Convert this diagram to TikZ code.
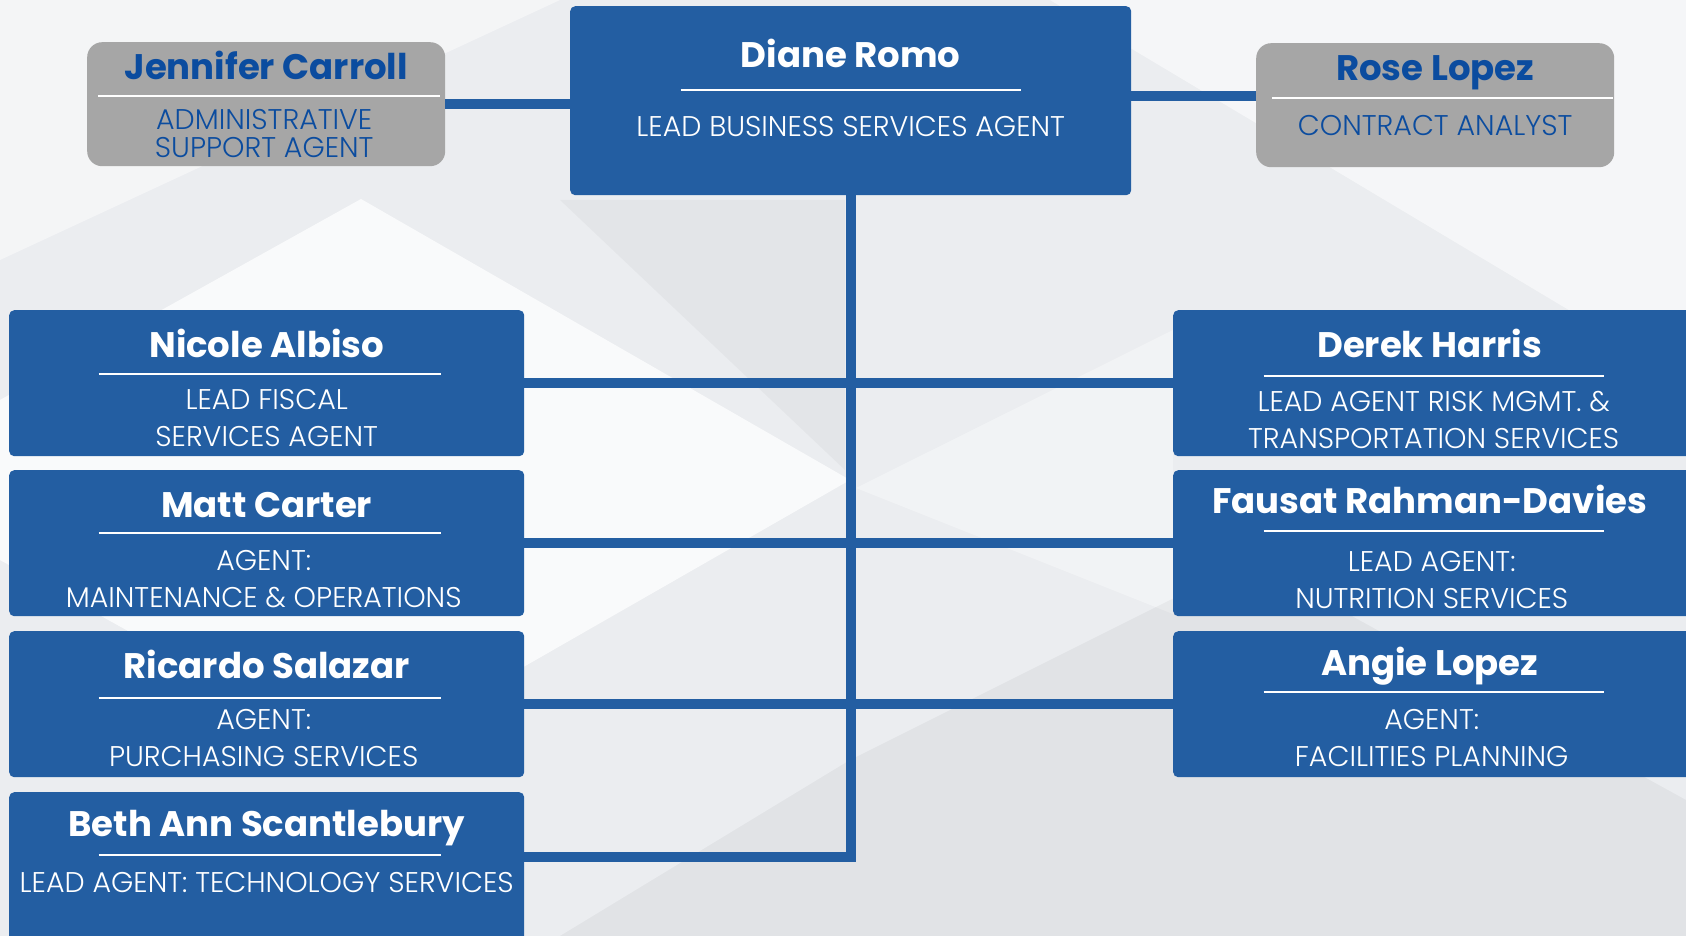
\documentclass[tikz,border=0pt]{standalone}
\usepackage{fontspec}
\setmainfont{Poppins}
\newfontfamily\poplight{Poppins Light}
\usepackage{xcolor}
\usepackage{tikz}
\usetikzlibrary{calc}
\definecolor{boxblue}{HTML}{235EA2}
\definecolor{boxgray}{HTML}{A6A6A6}
\definecolor{textblue}{HTML}{0B4C9F}
\definecolor{bgcol}{HTML}{EBEDF0}

\tikzset{
  bluebox/.style={fill=boxblue, rounded corners=5pt, anchor=north west, inner sep=0pt},
  graybox/.style={fill=boxgray, rounded corners=15pt, anchor=north west, inner sep=0pt,
    minimum width=358, minimum height=124},
  leftbox/.style={bluebox, minimum width=515, minimum height=146},
  rightbox/.style={bluebox, minimum width=521, minimum height=146},
  personname/.style={font=\bfseries\fontsize{35.5}{40}\selectfont, text=white, inner sep=0pt,
    text height=25pt, text depth=0pt},
  jobtitle/.style={font=\poplight\fontsize{28.5}{37.6}\selectfont, text=white, align=center,
    inner sep=0pt},
  namerule/.style={draw=white, line width=2pt},
  link/.style={draw=boxblue, line width=10pt},
}

\begin{document}
\begin{tikzpicture}[x=1pt, y=-1pt]
% page and a few soft background facets
\useasboundingbox (0,0) rectangle (1686,936);
\fill[bgcol] (0,0) rectangle (1686,936);
\fill[white, opacity=.55] (1050,0) -- (1686,0) -- (1686,380) -- cycle;
\fill[white, opacity=.45] (0,0) -- (560,0) -- (0,260) -- cycle;
\fill[white, opacity=.75] (361,199) -- (850,480) -- (361,760) -- (0,560) -- (0,400) -- cycle;
\fill[white, opacity=.35] (1173,330) -- (856,488) -- (1173,614) -- cycle;
\fill[black, opacity=.04] (850,760) -- (1250,560) -- (1686,800) -- (1686,936) -- (560,936) -- cycle;
\fill[black, opacity=.03] (560,200) -- (845,200) -- (845,470) -- cycle;

% top row
\node[bluebox, minimum width=561, minimum height=189] (dr) at (570,6) {};
\node[graybox] (jc) at (87,42) {};
\node[graybox] (rl) at (1256,43) {};

% left column
\node[leftbox] (na) at (9,310) {};
\node[leftbox] (mc) at (9,470) {};
\node[leftbox] (rs) at (9,631) {};
\node[leftbox, minimum height=160] (bs) at (9,792) {};

% right column
\node[rightbox] (dh) at (1173,310) {};
\node[rightbox] (fr) at (1173,470) {};
\node[rightbox] (al) at (1173,631) {};

% connectors
\coordinate (rljoin) at ($(rl.north west)+(0,53)$);
\coordinate (bsjoin) at ($(bs.north east)+(0,65)$);
\coordinate (trunkend) at (dr.south |- bsjoin);
\draw[link] (jc.east) -- (jc.east -| dr.west);
\draw[link] (rljoin) -- (rljoin -| dr.east);
\draw[link] (dr.south) -- (trunkend) -- (bsjoin);
\draw[link] (na.east) -- (dh.west);
\draw[link] (mc.east) -- (fr.west);
\draw[link] (rs.east) -- (al.west);

% texts
\node[personname] (drname) at ($(dr.north)+(0,49)$) {Diane Romo};
\draw[namerule] ($(dr.north)+(-170,84)$) -- ($(dr.north)+(170,84)$);
\node[jobtitle] (drtitle) at ($(dr.north)+(0,121)$) {LEAD BUSINESS SERVICES AGENT};

\node[personname, text=textblue] (jcname) at ($(jc.north)+(0,25)$) {Jennifer Carroll};
\draw[namerule] ($(jc.north west)+(11,54)$) -- ($(jc.north east)+(-5,54)$);
\node[jobtitle, text=textblue, font=\poplight\fontsize{28.5}{28}\selectfont] (jctitle)
  at ($(jc.north)+(-2,92)$) {ADMINISTRATIVE\\SUPPORT AGENT};

\node[personname, text=textblue] (rlname) at ($(rl.north)+(0,25)$) {Rose Lopez};
\draw[namerule] ($(rl.north west)+(16,55)$) -- ($(rl.north east)+(-1,55)$);
\node[jobtitle, text=textblue] (rltitle) at ($(rl.north)+(0,83)$) {CONTRACT ANALYST};

\node[personname] (naname) at ($(na.north)+(0,35)$) {Nicole Albiso};
\draw[namerule] ($(na.north)+(-168,64)$) -- ($(na.north)+(174,64)$);
\node[jobtitle] (natitle) at ($(na.north)+(0,108)$) {LEAD FISCAL\\SERVICES AGENT};

\node[personname] (mcname) at ($(mc.north)+(0,35)$) {Matt Carter};
\draw[namerule] ($(mc.north)+(-168,63)$) -- ($(mc.north)+(174,63)$);
\node[jobtitle] (mctitle) at ($(mc.north)+(-3,109)$) {AGENT:\\MAINTENANCE \& OPERATIONS};

\node[personname] (rsname) at ($(rs.north)+(0,35)$) {Ricardo Salazar};
\draw[namerule] ($(rs.north)+(-168,67)$) -- ($(rs.north)+(174,67)$);
\node[jobtitle] (rstitle) at ($(rs.north)+(-3,107)$) {AGENT:\\PURCHASING SERVICES};

\node[personname] (bsname) at ($(bs.north)+(0,32)$) {Beth Ann Scantlebury};
\draw[namerule] ($(bs.north)+(-168,63)$) -- ($(bs.north)+(174,63)$);
\node[jobtitle] (bstitle) at ($(bs.north)+(0,91)$) {LEAD AGENT: TECHNOLOGY SERVICES};

\node[personname] (dhname) at ($(dh.north)+(-4,35)$) {Derek Harris};
\draw[namerule] ($(dh.north)+(-170,66)$) -- ($(dh.north)+(170,66)$);
\node[jobtitle] (dhtitle) at ($(dh.north)+(0,110)$) {LEAD AGENT RISK MGMT. \&\\TRANSPORTATION SERVICES};

\node[personname] (frname) at ($(fr.north)+(-4,31)$) {Fausat Rahman-Davies};
\draw[namerule] ($(fr.north)+(-170,61)$) -- ($(fr.north)+(170,61)$);
\node[jobtitle] (frtitle) at ($(fr.north)+(-2,110)$) {LEAD AGENT:\\NUTRITION SERVICES};

\node[personname] (alname) at ($(al.north)+(-4,32)$) {Angie Lopez};
\draw[namerule] ($(al.north)+(-170,61)$) -- ($(al.north)+(170,61)$);
\node[jobtitle] (altitle) at ($(al.north)+(-2,107)$) {AGENT:\\FACILITIES PLANNING};

\end{tikzpicture}
\end{document}
